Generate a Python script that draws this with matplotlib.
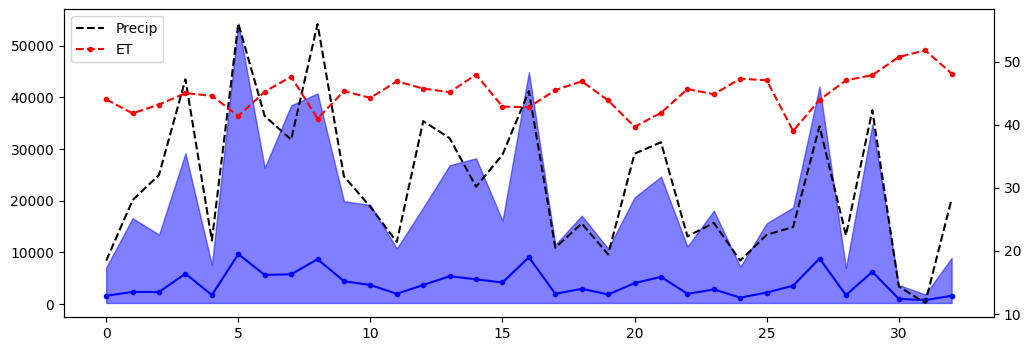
import numpy as np
import matplotlib
matplotlib.use("Agg")
import matplotlib.pyplot as plt

# left axis series
precip = [8400, 20100, 25000, 43500, 12300, 54300, 36400, 31800, 54200, 24700,
          18800, 12000, 35400, 32100, 22700, 28900, 41200, 10900, 15600, 9600,
          29100, 31300, 13100, 15700, 8400, 13400, 14900, 34400, 13300, 37500,
          3400, 200, 20300]
et = [39600, 36900, 38600, 40800, 40300, 36400, 41100, 44000, 35900, 41200,
      39900, 43100, 41700, 41000, 44400, 38200, 38100, 41400, 43100, 39400,
      34300, 37000, 41600, 40600, 43600, 43300, 33500, 39500, 43300, 44300,
      47800, 49100, 44600]

# right axis series
blue_line = [12.9, 13.5, 13.5, 16.4, 13.0, 19.5, 16.2, 16.3, 18.7, 15.2,
             14.6, 13.2, 14.6, 16.0, 15.5, 15.0, 19.0, 13.2, 14.0, 13.1,
             14.9, 15.9, 13.2, 13.9, 12.6, 13.4, 14.5, 18.8, 13.0, 16.7,
             12.4, 12.2, 12.9]
fill_top = [17.4, 25.2, 22.6, 35.5, 17.8, 56.1, 33.2, 43.1, 45.0, 27.9,
            27.3, 20.4, 26.9, 33.6, 34.7, 24.8, 48.4, 21.0, 25.6, 20.4,
            28.5, 31.8, 20.7, 26.4, 17.5, 24.4, 26.9, 46.1, 17.3, 40.1,
            14.6, 13.1, 18.9]
fill_base = 11.75

x = np.arange(len(precip))

fig, ax1 = plt.subplots(figsize=(10.31, 3.51), dpi=100)
fig.subplots_adjust(left=0.062, right=0.964, top=0.973, bottom=0.097)

ax1.plot(x, precip, 'k--', label='Precip')
ax1.plot(x, et, 'r--', marker='.', label='ET')
ax1.legend(loc='upper left')

ax2 = ax1.twinx()
ax2.fill_between(x, fill_base, fill_top, color='blue', alpha=0.5)
ax2.plot(x, blue_line, 'b-', marker='.')

# keep precip/ET lines above the shaded area
ax1.set_zorder(ax2.get_zorder() + 1)
ax1.patch.set_visible(False)

fig.savefig('out.png')
